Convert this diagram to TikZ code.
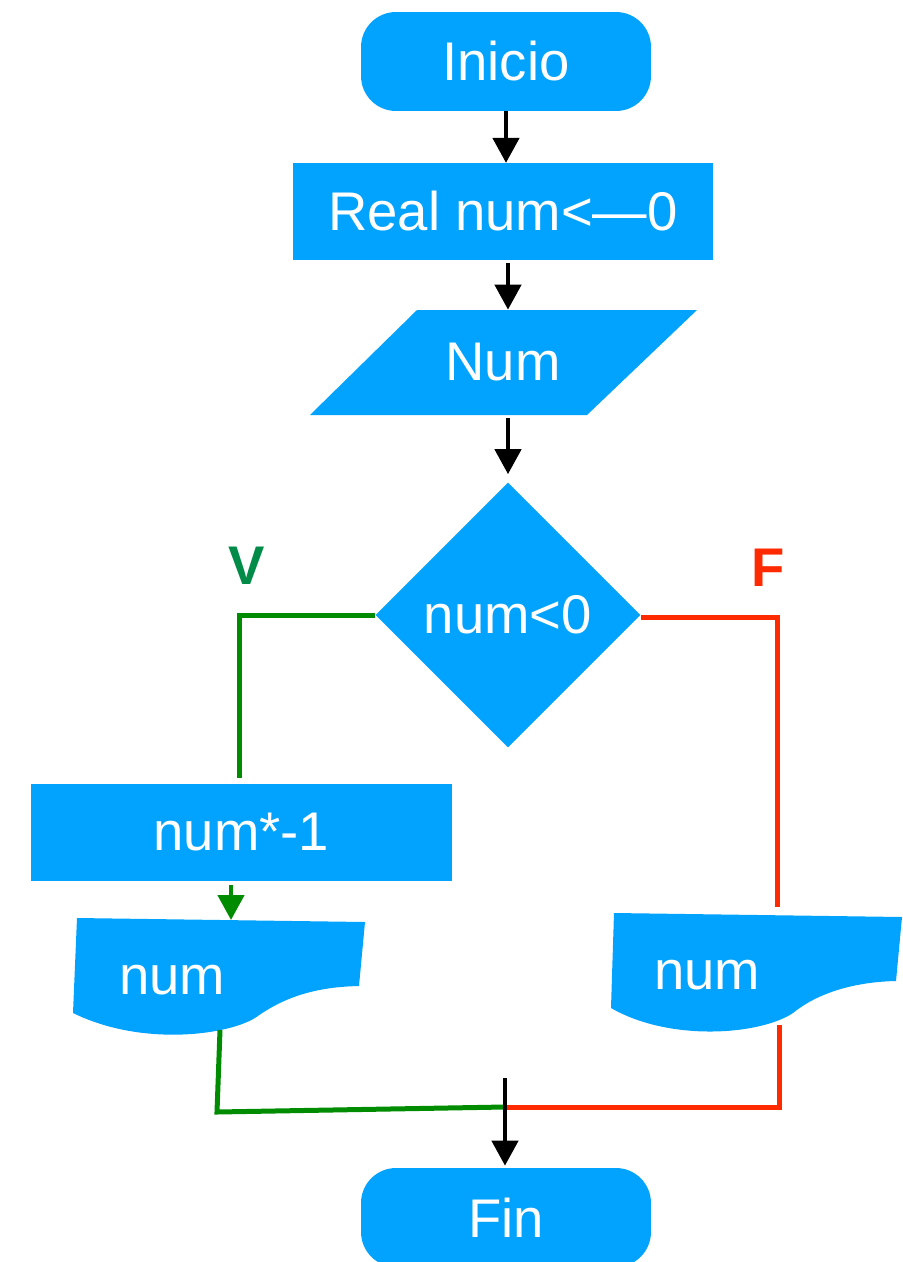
\documentclass[tikz,border=0pt]{standalone}
\usepackage{fontspec}
\setmainfont{Liberation Sans}
\usetikzlibrary{arrows.meta, shapes.geometric}

\definecolor{flujo}{RGB}{2,163,255}
\definecolor{verde}{RGB}{0,140,0}
\definecolor{verdeV}{RGB}{0,140,72}
\definecolor{rojo}{RGB}{255,42,0}

\begin{document}
\begin{tikzpicture}[
    x=0.02cm, y=-0.02cm,
    >={Triangle[width=0.52cm, length=0.5cm]},
    every node/.style={font=\fontsize{31}{36}\selectfont, text=white},
    term/.style={rectangle, rounded corners=0.7cm, fill=flujo,
                minimum width=5.8cm, minimum height=1.98cm},
    proc/.style={rectangle, fill=flujo, minimum height=1.93cm},
    entrada/.style={rectangle, minimum width=7.74cm, minimum height=2.1cm},
    decision/.style={diamond, aspect=1, fill=flujo, inner sep=0pt,
                minimum width=5.3cm, minimum height=5.3cm},
    flecha/.style={->, line width=0.09cm, draw=black},
    rama/.style={line width=0.1cm},
    etiq/.style={font=\fontsize{31}{36}\selectfont\bfseries}
]
\useasboundingbox (0,0) rectangle (903,1262);

% Inicio y datos
\node[term] (inicio) at (506,61.5) {Inicio};
\node[proc, minimum width=8.4cm] (real) at (503,211.5) {Real num<—0};
\fill[flujo] (417,310) -- (697,310) -- (587,415) -- (310,415) -- cycle;
\node[entrada] (leer) at (503,362.5) {Num};

% Condicion
\node[decision] (cond) at (508,615) {num<0};
\node[etiq, text=verdeV] (lblV) at (247,566) {V};
\node[etiq, text=rojo] (lblF) at (768,568) {F};

% Rama verdadera
\node[proc, minimum width=8.42cm] (mult) at (241.5,832.5) {num*-1};
\fill[flujo] (77,918) -- (365,922) -- (359,986)
    .. controls (310,987) and (280,1000) .. (255,1018)
    .. controls (225,1036) and (140,1046) .. (73,1013) -- cycle;
\node (salV) at (172,980) {num};

% Rama falsa
\fill[flujo] (614,913) -- (902,917) -- (896,981)
    .. controls (850,982) and (815,995) .. (793,1013)
    .. controls (760,1035) and (670,1042) .. (611,1008) -- cycle;
\node (salF) at (707,975) {num};

% Fin
\node[term] (fin) at (506,1217.5) {Fin};

% Puntos de union
\coordinate (salVtop) at (231,920);
\coordinate (salVbot) at (220,1030);
\coordinate (esqV) at (217,1112);
\coordinate (salFtop) at (777,907);
\coordinate (salFbot) at (779,1025);
\coordinate (esqF) at (779,1107);
\coordinate (union) at (505,1107);
\coordinate (baja) at (505,1078);

% Flechas principales
\draw[flecha] (inicio.south) -- (inicio.south |- real.north);
\draw[flecha, shorten <=0.06cm] (real.south -| cond.north) -- (leer.north -| cond.north);
\draw[flecha, shorten <=0.06cm, shorten >=0.16cm] (leer.south -| cond.north) -- (cond.north);

% Ramas
\draw[rama, verde, shorten >=0.12cm] (cond.west) -| (mult.north -| 239,0);
\draw[flecha, draw=verde, shorten <=0.08cm] (mult.south -| salVtop) -- (salVtop);
\draw[rama, verde] (salVbot) -- (esqV) -- (union);
\draw[rama, rojo] ([yshift=-0.04cm]cond.east) -| (salFtop);
\draw[rama, rojo] (salFbot) -- (esqF) -- (union);
\draw[flecha, shorten >=0.04cm] (baja) -- (baja |- fin.north);

\end{tikzpicture}
\end{document}
